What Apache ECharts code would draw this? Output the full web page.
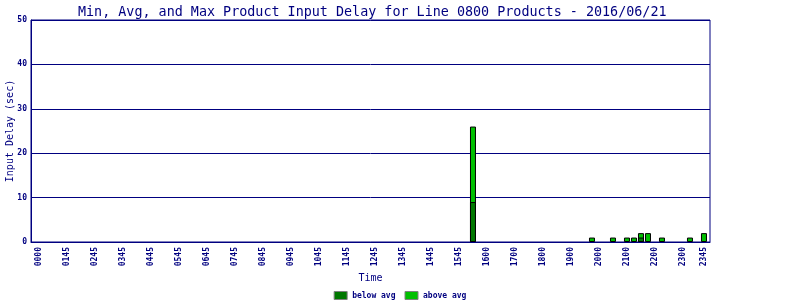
<!DOCTYPE html>
<html>
<head>
<meta charset="utf-8">
<script src="https://cdn.jsdelivr.net/npm/echarts@6/dist/echarts.min.js"></script>
<style>html,body{margin:0;padding:0;background:#fff}#c{width:800px;height:300px}</style>
</head>
<body>
<div id="c"></div>
<script>
// 15-minute slot index (0 = 0000 ... 95 = 2345) for each bar
const slots    = [62, 79, 82, 84, 85, 86, 87, 89, 93, 95];
const belowAvg = [ 9,  0,  0,  0,  0,  1,  0,  0,  0,  0];
const aboveAvg = [17,  1,  1,  1,  1,  1,  2,  1,  1,  2];
const tickSlots  = [0,4,8,12,16,20,24,28,32,36,40,44,48,52,56,60,64,68,72,76,80,84,88,92,95];
const tickLabels = ['0000','0145','0245','0345','0445','0545','0645','0745','0845','0945','1045','1145','1245','1345','1445','1545','1600','1700','1800','1900','2000','2100','2200','2300','2345'];
const yTicks = [0, 10, 20, 30, 40, 50];
const titleText = 'Min, Avg, and Max Product Input Delay for Line 0800 Products - 2016/06/21';

const NAVY = '#000080';
const MONO = '"DejaVu Sans Mono", "Liberation Mono", monospace';

const totalData = slots.map((s, i) => [s, belowAvg[i] + aboveAvg[i]]);
const belowData = slots.map((s, i) => [s, belowAvg[i] > 0 ? belowAvg[i] : null]);

const chart = echarts.init(document.getElementById('c'), null, {renderer: 'canvas'});
chart.setOption({
  animation: false,
  backgroundColor: '#ffffff',
  title: {
    text: titleText,
    left: 78, top: 6, padding: 0,
    textStyle: {fontFamily: MONO, fontSize: 13.4, fontWeight: 'normal', color: NAVY}
  },
  grid: {
    left: 31, right: 90, top: 20, bottom: 58,
    containLabel: false, outerBoundsMode: 'none',
    show: true, borderColor: NAVY, borderWidth: 1, backgroundColor: 'transparent'
  },
  legend: {
    top: 286, left: 'center',
    itemWidth: 13, itemHeight: 8, itemGap: 9,
    icon: 'rect',
    data: ['below avg', 'above avg'],
    itemStyle: {borderColor: '#808080', borderWidth: 1},
    textStyle: {fontFamily: MONO, fontSize: 8, fontWeight: 'bold', color: NAVY}
  },
  xAxis: {
    type: 'value', min: -1.14, max: 95.86,
    name: 'Time', nameLocation: 'middle', nameGap: 31, nameMoveOverlap: false,
    nameTextStyle: {fontFamily: MONO, fontSize: 10, color: NAVY},
    axisLine: {show: true, onZero: false, lineStyle: {color: NAVY, width: 1}},
    axisTick: {show: false},
    splitLine: {show: false},
    axisLabel: {
      customValues: tickSlots,
      rotate: 90, margin: 5,
      fontFamily: MONO, fontSize: 8, fontWeight: 'bold', color: NAVY,
      formatter: v => { const k = tickSlots.indexOf(Math.round(v)); return k >= 0 ? tickLabels[k] : ''; }
    }
  },
  yAxis: {
    type: 'value', min: 0, max: 50, interval: 10,
    name: 'Input Delay (sec)', nameLocation: 'middle', nameGap: 16, nameMoveOverlap: false,
    nameTextStyle: {fontFamily: MONO, fontSize: 10, color: NAVY},
    axisLine: {show: true, onZero: false, lineStyle: {color: NAVY, width: 1}},
    axisTick: {show: false},
    splitLine: {show: true, lineStyle: {color: NAVY, width: 1}},
    axisLabel: {
      customValues: yTicks,
      margin: 4, fontFamily: MONO, fontSize: 8, fontWeight: 'bold', color: NAVY
    }
  },
  series: [
    {
      name: 'above avg', type: 'bar', barWidth: 6, barGap: '-100%',
      itemStyle: {color: '#00c000', borderColor: '#000000', borderWidth: 1},
      data: totalData
    },
    {
      name: 'below avg', type: 'bar', barWidth: 6, barGap: '-100%',
      itemStyle: {color: '#007800', borderColor: '#000000', borderWidth: 1},
      data: belowData
    }
  ]
});
</script>
</body>
</html>
